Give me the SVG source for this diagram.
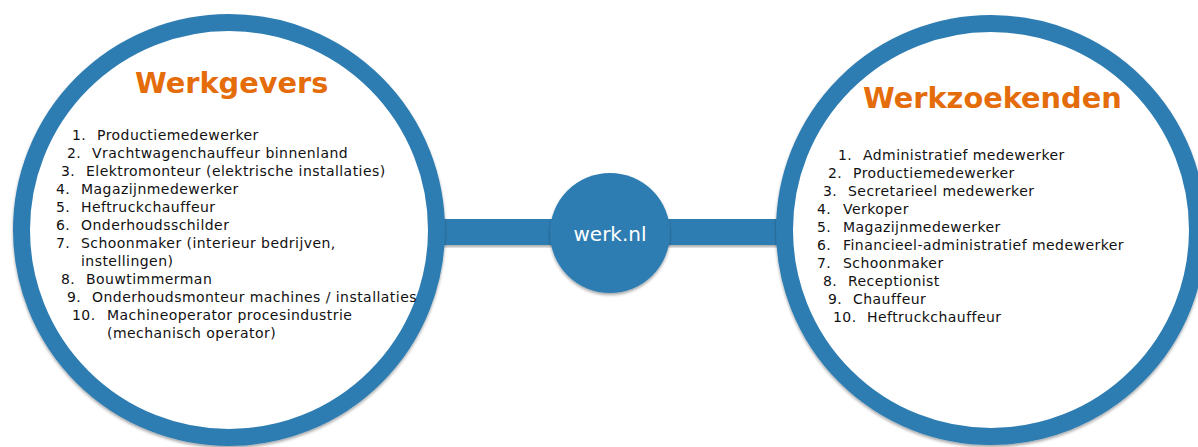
<svg xmlns="http://www.w3.org/2000/svg" width="1198" height="447" viewBox="0 0 1198 447">
<defs>
<filter id="sh" x="-10%" y="-10%" width="120%" height="120%">
<feDropShadow dx="0" dy="2" stdDeviation="1.5" flood-color="#000" flood-opacity="0.35"/>
</filter>
<style>
.ring{fill:#fff;stroke:#2e7db2;stroke-width:17}
.bar{fill:#2e7db2}
.hub{fill:#2e7db2}
.title{font-family:"DejaVu Sans",Verdana,sans-serif;font-weight:bold;font-size:28.8px;fill:#e46c0a}
.li{font-family:"DejaVu Sans",Verdana,sans-serif;font-size:14px;letter-spacing:0.45px;fill:#111}
.hubt{font-family:"DejaVu Sans",Verdana,sans-serif;font-size:20px;fill:#fff;text-anchor:middle}
</style>
</defs>
<rect width="1198" height="447" fill="#fff"/>
<g id="connectors" filter="url(#sh)">
<rect class="bar" x="440" y="219" width="345" height="26"/>
</g>
<g id="werkgevers">
<circle class="ring" cx="229" cy="230" r="207.5" filter="url(#sh)"/>
<text class="title" x="135" y="93">Werkgevers</text>
<g class="li">
<text x="72" y="140">1.</text><text x="97" y="140">Productiemedewerker</text>
<text x="67" y="158">2.</text><text x="92" y="158">Vrachtwagenchauffeur binnenland</text>
<text x="61" y="176">3.</text><text x="86" y="176">Elektromonteur (elektrische installaties)</text>
<text x="56" y="194">4.</text><text x="81" y="194">Magazijnmedewerker</text>
<text x="56" y="212">5.</text><text x="81" y="212">Heftruckchauffeur</text>
<text x="56" y="230">6.</text><text x="81" y="230">Onderhoudsschilder</text>
<text x="56" y="248">7.</text><text x="81" y="248">Schoonmaker (interieur bedrijven,</text>
<text x="81" y="266">instellingen)</text>
<text x="61" y="284">8.</text><text x="86" y="284">Bouwtimmerman</text>
<text x="67" y="302">9.</text><text x="92" y="302">Onderhoudsmonteur machines / installaties</text>
<text x="72" y="320">10.</text><text x="107" y="320">Machineoperator procesindustrie</text>
<text x="107" y="338">(mechanisch operator)</text>
</g>
</g>
<g id="werkzoekenden">
<circle class="ring" cx="991" cy="230" r="206.5" filter="url(#sh)"/>
<text class="title" x="863" y="108">Werkzoekenden</text>
<g class="li">
<text x="838" y="160">1.</text><text x="863" y="160">Administratief medewerker</text>
<text x="828" y="178">2.</text><text x="853" y="178">Productiemedewerker</text>
<text x="823" y="196">3.</text><text x="848" y="196">Secretarieel medewerker</text>
<text x="817" y="214">4.</text><text x="843" y="214">Verkoper</text>
<text x="817" y="232">5.</text><text x="843" y="232">Magazijnmedewerker</text>
<text x="817" y="250">6.</text><text x="843" y="250">Financieel-administratief medewerker</text>
<text x="817" y="268">7.</text><text x="843" y="268">Schoonmaker</text>
<text x="823" y="286">8.</text><text x="848" y="286">Receptionist</text>
<text x="828" y="304">9.</text><text x="853" y="304">Chauffeur</text>
<text x="833" y="322">10.</text><text x="867" y="322">Heftruckchauffeur</text>
</g>
</g>
<g id="werknl">
<circle class="hub" cx="610" cy="233" r="60" filter="url(#sh)"/>
<text class="hubt" x="610" y="241">werk.nl</text>
</g>
</svg>
